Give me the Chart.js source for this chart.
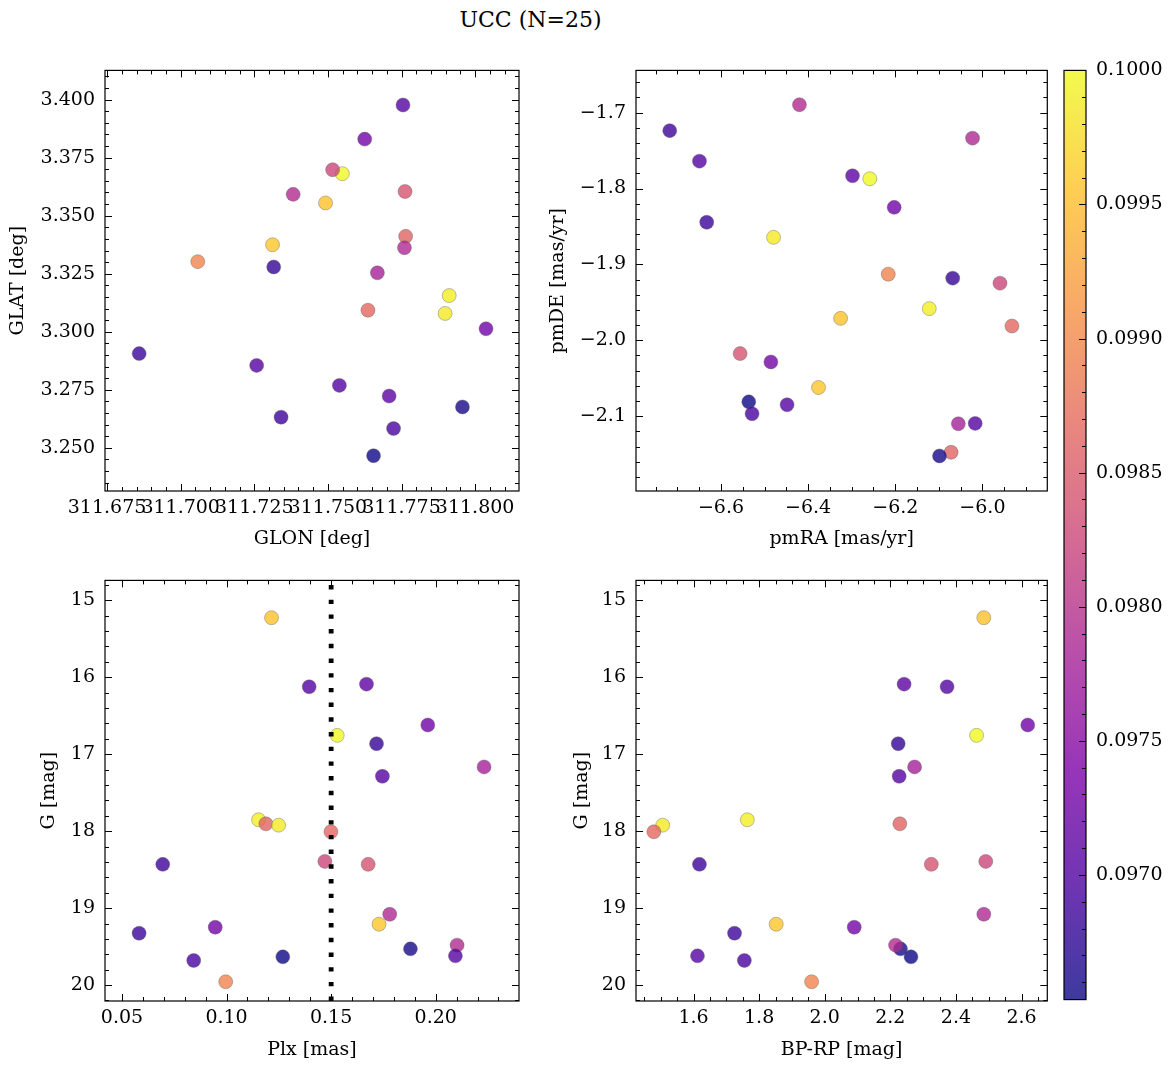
<!DOCTYPE html>
<html>
<head>
<meta charset="utf-8">
<title>UCC (N=25)</title>
<script src="https://cdn.jsdelivr.net/npm/chart.js@4.4.1/dist/chart.umd.min.js"></script>
<style>
  body { margin: 0; background: #fff; }
  #fig { position: relative; width: 1173px; height: 1068px; background: #fff; overflow: hidden; }
  #fig canvas { position: absolute; }
  #title { position: absolute; left: 0; top: 7px; width: 1061px; text-align: center;
           font: 22px "DejaVu Serif", serif; line-height: 26px; color: #000; }
</style>
</head>
<body>
<div id="fig">
  <div id="title">UCC (N=25)</div>
  <canvas id="p1"></canvas>
  <canvas id="p2"></canvas>
  <canvas id="p3"></canvas>
  <canvas id="p4"></canvas>
  <canvas id="cb"></canvas>
</div>
<script>
// one entry per star, same order in every array
const colorVal = [0.09955, 0.09702, 0.09712, 0.09728, 0.10000, 0.09680, 0.09778, 0.09705, 0.09990, 0.09860,
                  0.09988, 0.09865, 0.09688, 0.09825, 0.09840, 0.09790, 0.09958, 0.09730, 0.09685, 0.09660,
                  0.09792, 0.09702, 0.096535, 0.09695, 0.09895];
const glon = [311.7492, 311.7755, 311.7708, 311.8037, 311.7549, 311.7316, 311.7668, 311.7258, 311.7912, 311.7764,
              311.7898, 311.7636, 311.7341, 311.7516, 311.7762, 311.7760, 311.7312, 311.7625, 311.6859, 311.7957,
              311.7382, 311.7539, 311.7655, 311.7723, 311.7058];
const glat = [3.3555, 3.3977, 3.2723, 3.3013, 3.3681, 3.3279, 3.3254, 3.2855, 3.3156, 3.3411,
              3.3079, 3.3093, 3.2632, 3.3698, 3.3604, 3.3362, 3.3375, 3.3830, 3.2906, 3.2676,
              3.3592, 3.2769, 3.2466, 3.2583, 3.3302];
const pmra = [-6.3255, -6.6494, -6.2982, -6.2025, -6.2585, -6.0682, -6.0553, -6.4484, -6.1220, -6.0719,
              -6.4794, -5.9323, -6.7177, -5.9597, -6.5561, -6.0227, -6.3762, -6.4855, -6.6328, -6.0985,
              -6.4200, -6.0166, -6.5363, -6.5287, -6.2162];
const pmde = [-1.9711, -1.7639, -1.7832, -1.8248, -1.7871, -1.9181, -2.1100, -2.0850, -1.9583, -2.1476,
              -1.8643, -1.9812, -1.7237, -1.9247, -2.0175, -1.7336, -2.0622, -2.0285, -1.8445, -2.1524,
              -1.6895, -2.1095, -2.0811, -2.0968, -1.9129];
const plx = [0.1215, 0.1395, 0.1669, 0.1962, 0.1529, 0.1717, 0.2231, 0.1745, 0.1153, 0.1188,
             0.1249, 0.1499, 0.0695, 0.1470, 0.1677, 0.1780, 0.1729, 0.0946, 0.0582, 0.1879,
             0.2102, 0.2094, 0.1269, 0.0843, 0.0996];
const gmag = [15.226, 16.124, 16.089, 16.620, 16.755, 16.863, 17.165, 17.287, 17.852, 17.904,
              17.922, 18.008, 18.431, 18.393, 18.431, 19.080, 19.209, 19.248, 19.326, 19.529,
              19.481, 19.620, 19.633, 19.680, 19.957];
const bprp = [2.485, 2.373, 2.242, 2.619, 2.463, 2.224, 2.274, 2.227, 1.764, 2.229,
              1.506, 1.479, 1.618, 2.491, 2.325, 2.485, 1.852, 2.090, 1.725, 2.231,
              2.216, 1.612, 2.263, 1.755, 1.960];

// tick labels
const glonTicks = [311.675, 311.700, 311.725, 311.750, 311.775, 311.800];
const glatTicks = [3.250, 3.275, 3.300, 3.325, 3.350, 3.375, 3.400];
const pmraTicks = [-6.6, -6.4, -6.2, -6.0];
const pmdeTicks = [-2.1, -2.0, -1.9, -1.8, -1.7];
const plxTicks = [0.05, 0.10, 0.15, 0.20];
const gTicks = [15, 16, 17, 18, 19, 20];
const bprpTicks = [1.6, 1.8, 2.0, 2.2, 2.4, 2.6];
const cbarTicks = [0.0970, 0.0975, 0.0980, 0.0985, 0.0990, 0.0995, 0.1000];
const plxLine = 0.15;

Chart.defaults.font.family = "'DejaVu Serif', serif";
Chart.defaults.font.size = 19;
Chart.defaults.color = '#000';

// matplotlib plasma, 9 stops
const plasma = [[13,8,135],[76,2,161],[126,3,168],[169,35,149],[204,71,120],[229,107,93],[248,148,65],[253,195,40],[240,249,33]];
function cmap(t, alpha) {
  t = Math.min(1, Math.max(0, t));
  const p = t * 8, i = Math.min(7, Math.floor(p)), f = p - i;
  const a = plasma[i], b = plasma[i + 1];
  const c = a.map((v, k) => Math.round(v + (b[k] - v) * f));
  return 'rgba(' + c[0] + ',' + c[1] + ',' + c[2] + ',' + alpha + ')';
}
const cbMin = Math.min(...colorVal), cbMax = Math.max(...colorVal);
const pointColors = colorVal.map(v => cmap((v - cbMin) / (cbMax - cbMin), 0.8));

const minus = (v, d) => (v < 0 ? '\u2212' : '') + Math.abs(v).toFixed(d);

// inward ticks on all four sides + black frame
const frame = {
  id: 'frame',
  afterDraw(chart, args, opts) {
    const {ctx, chartArea: a} = chart;
    const xs = chart.scales.x, ys = chart.scales.y;
    const marks = (sc, step) => {
      const out = sc.ticks.map(t => [t.value, 7]);
      const n0 = Math.ceil(sc.min / step - 1e-6), n1 = Math.floor(sc.max / step + 1e-6);
      for (let n = n0; n <= n1; n++) out.push([n * step, 4]);
      return out;
    };
    ctx.save();
    ctx.strokeStyle = '#000';
    ctx.lineWidth = 1;
    ctx.beginPath();
    marks(xs, opts.xMinor).forEach(([v, len]) => {
      const px = Math.round(xs.getPixelForValue(v)) + 0.5;
      ctx.moveTo(px, a.bottom); ctx.lineTo(px, a.bottom - len);
      ctx.moveTo(px, a.top); ctx.lineTo(px, a.top + len);
    });
    marks(ys, opts.yMinor).forEach(([v, len]) => {
      const py = Math.round(ys.getPixelForValue(v)) + 0.5;
      ctx.moveTo(a.left, py); ctx.lineTo(a.left + len, py);
      ctx.moveTo(a.right, py); ctx.lineTo(a.right - len, py);
    });
    ctx.stroke();
    ctx.lineWidth = 1.2;
    ctx.strokeRect(a.left, a.top, a.right - a.left, a.bottom - a.top);
    ctx.restore();
  }
};

// dotted vertical line (Plx panel)
const vline = {
  id: 'vline',
  afterDatasetsDraw(chart, args, opts) {
    const {ctx, chartArea: a} = chart;
    const px = chart.scales.x.getPixelForValue(opts.x);
    ctx.save();
    ctx.strokeStyle = '#000';
    ctx.lineWidth = 4.8;
    ctx.setLineDash([4.4, 10.3]);
    ctx.beginPath();
    ctx.moveTo(px, a.bottom);
    ctx.lineTo(px, a.top);
    ctx.stroke();
    ctx.restore();
  }
};

function axisCfg(s, size, dir) {
  return {
    type: 'linear', min: s.min, max: s.max, reverse: !!s.reverse,
    grid: { display: false, drawTicks: false },
    border: { display: false },
    afterBuildTicks: sc => { sc.ticks = s.ticks.map(v => ({ value: v })); },
    afterFit: sc => { if (dir === 'x') sc.height = size; else sc.width = size; },
    ticks: { padding: dir === 'x' ? 6 : 10, maxRotation: 0, minRotation: 0, autoSkip: false,
             callback: v => s.fmt(v) },
    title: { display: true, text: s.label, padding: 0 }
  };
}

function place(cv, left, top, w, h) {
  cv.width = w; cv.height = h;
  cv.style.left = left + 'px'; cv.style.top = top + 'px';
  cv.style.width = w + 'px'; cv.style.height = h + 'px';
}

function makePanel(id, box, pad, xs, ys, xData, yData, line) {
  const cv = document.getElementById(id);
  const w = box.R - box.L + pad.l + pad.r;
  const h = box.B - box.T + pad.t + pad.b;
  place(cv, box.L - pad.l, box.T - pad.t, w, h);
  const pts = xData.map((x, i) => ({ x: x, y: yData[i] }));
  return new Chart(cv, {
    type: 'scatter',
    data: { datasets: [{
      data: pts,
      backgroundColor: pointColors,
      borderColor: 'rgba(90,90,90,0.55)',
      borderWidth: 0.7,
      pointRadius: 7,
      pointHoverRadius: 7
    }] },
    options: {
      responsive: false, animation: false, events: [],
      layout: { padding: { left: 0, top: pad.t, right: pad.r, bottom: 0 } },
      plugins: {
        legend: { display: false }, tooltip: { enabled: false },
        frame: { xMinor: xs.minor, yMinor: ys.minor },
        vline: { x: line }
      },
      scales: { x: axisCfg(xs, pad.b, 'x'), y: axisCfg(ys, pad.l, 'y') }
    },
    plugins: line !== undefined ? [frame, vline] : [frame]
  });
}

const gAxis = { min: 14.741, max: 20.207, reverse: true, ticks: gTicks, minor: 0.2,
                fmt: v => v.toFixed(0), label: 'G [mag]' };

makePanel('p1', { L: 105, T: 69, R: 519, B: 491 }, { l: 98, t: 20, r: 8, b: 59 },
  { min: 311.6743, max: 311.8149, ticks: glonTicks, minor: 0.005, fmt: v => v.toFixed(3), label: 'GLON [deg]' },
  { min: 3.2314, max: 3.4126, ticks: glatTicks, minor: 0.005, fmt: v => v.toFixed(3), label: 'GLAT [deg]' },
  glon, glat);

makePanel('p2', { L: 636, T: 69, R: 1051, B: 491 }, { l: 89, t: 20, r: 4, b: 59 },
  { min: -6.7951, max: -5.8511, ticks: pmraTicks, minor: 0.05, fmt: v => minus(v, 1), label: 'pmRA [mas/yr]' },
  { min: -2.1986, max: -1.6443, ticks: pmdeTicks, minor: 0.02, fmt: v => minus(v, 1), label: 'pmDE [mas/yr]' },
  pmra, pmde);

makePanel('p3', { L: 105, T: 579, R: 519, B: 1001 }, { l: 67, t: 20, r: 8, b: 60 },
  { min: 0.0419, max: 0.2398, ticks: plxTicks, minor: 0.01, fmt: v => v.toFixed(2), label: 'Plx [mas]' },
  gAxis, plx, gmag, plxLine);

makePanel('p4', { L: 636, T: 579, R: 1051, B: 1001 }, { l: 65, t: 20, r: 4, b: 60 },
  { min: 1.4246, max: 2.6786, ticks: bprpTicks, minor: 0.05, fmt: v => v.toFixed(1), label: 'BP-RP [mag]' },
  gAxis, bprp, gmag);

// colorbar
const cbBox = { L: 1064, T: 69, R: 1086, B: 1001 };
const cbPad = { l: 6, t: 20, r: 1173 - 1086, b: 20 };
const cbCanvas = document.getElementById('cb');
place(cbCanvas, cbBox.L - cbPad.l, cbBox.T - cbPad.t,
      cbBox.R - cbBox.L + cbPad.l + cbPad.r, cbBox.B - cbBox.T + cbPad.t + cbPad.b);

const cbar = {
  id: 'cbar',
  beforeDatasetsDraw(chart, args, opts) {
    const {ctx, chartArea: a} = chart;
    const ys = chart.scales.y;
    const grad = ctx.createLinearGradient(0, a.bottom, 0, a.top);
    plasma.forEach((c, i) => grad.addColorStop(i / 8, cmap(i / 8, 0.8)));
    ctx.save();
    ctx.fillStyle = grad;
    ctx.fillRect(a.left, a.top, a.right - a.left, a.bottom - a.top);
    ctx.strokeStyle = '#000';
    ctx.lineWidth = 1;
    ctx.beginPath();
    const marks = ys.ticks.map(t => [t.value, 7]);
    const n0 = Math.ceil(ys.min / opts.minor - 1e-6), n1 = Math.floor(ys.max / opts.minor + 1e-6);
    for (let n = n0; n <= n1; n++) marks.push([n * opts.minor, 4]);
    marks.forEach(([v, len]) => {
      const py = Math.round(ys.getPixelForValue(v)) + 0.5;
      ctx.moveTo(a.right, py); ctx.lineTo(a.right - len, py);
    });
    ctx.stroke();
    ctx.lineWidth = 1.2;
    ctx.strokeRect(a.left, a.top, a.right - a.left, a.bottom - a.top);
    ctx.restore();
  }
};

new Chart(cbCanvas, {
  type: 'scatter',
  data: { datasets: [] },
  options: {
    responsive: false, animation: false, events: [],
    layout: { padding: { left: cbPad.l, top: cbPad.t, right: 0, bottom: cbPad.b } },
    plugins: { legend: { display: false }, tooltip: { enabled: false }, cbar: { minor: 0.0001 } },
    scales: {
      x: { display: false, min: 0, max: 1 },
      y: {
        position: 'right', min: cbMin, max: cbMax,
        grid: { display: false, drawTicks: false },
        border: { display: false },
        afterBuildTicks: sc => { sc.ticks = cbarTicks.map(v => ({ value: v })); },
        afterFit: sc => { sc.width = cbPad.r; },
        ticks: { padding: 10, autoSkip: false, callback: v => v.toFixed(4) }
      }
    }
  },
  plugins: [cbar]
});
</script>
</body>
</html>
